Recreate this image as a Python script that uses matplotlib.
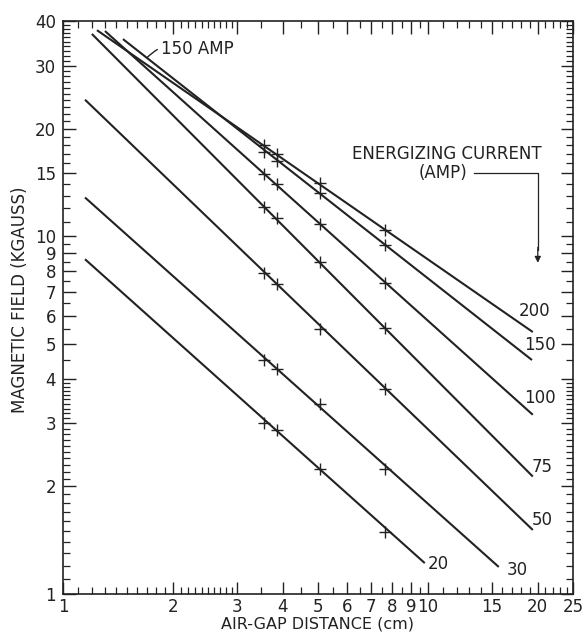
import matplotlib
matplotlib.use('Agg')
import matplotlib.pyplot as plt
import numpy as np
from matplotlib.ticker import FixedLocator, FixedFormatter, NullFormatter

plt.rcParams['font.family'] = 'DejaVu Sans'
plt.rcParams['font.size'] = 12

ink = '#222222'

# energizing current (A) of each curve
currents = [20, 30, 50, 75, 100, 150, 200]

# ends of each drawn line: air gap (cm), field (kG)
start_gap = [1.149, 1.149, 1.149, 1.20, 1.303, 1.46, 1.239]
start_field = [8.63, 12.84, 24.1, 36.8, 37.5, 35.6, 37.7]
end_gap = [9.81, 15.65, 19.4, 19.4, 19.4, 19.3, 19.4]
end_field = [1.22, 1.19, 1.51, 2.13, 3.17, 4.51, 5.40]

# measured points (+ marks)
meas_gap = [3.55, 3.85, 5.05, 7.65]
meas_field = [
    [3.00, 2.88, 2.24, 1.49],
    [4.51, 4.26, 3.40, 2.24],
    [7.89, 7.35, 5.51, 3.75],
    [12.04, 11.22, 8.47, 5.54],
    [14.98, 14.05, 10.8, 7.40],
    [17.26, 16.28, 13.18, 9.44],
    [18.05, 17.03, 14.14, 10.39],
]

# tick labels
x_major = [1, 2, 3, 4, 5, 6, 7, 8, 9, 10, 15, 20, 25]
y_major = [1, 2, 3, 4, 5, 6, 7, 8, 9, 10, 15, 20, 30, 40]

fig = plt.figure(figsize=(5.86, 6.34), dpi=100)
ax = fig.add_axes([0.1075, 0.0631, 0.8703, 0.9038])
ax.set_xscale('log')
ax.set_yscale('log')
ax.set_xlim(1, 25)
ax.set_ylim(1, 40)

for i, amp in enumerate(currents):
    ax.plot([start_gap[i], end_gap[i]], [start_field[i], end_field[i]],
            color=ink, lw=1.5, solid_capstyle='butt')
    ax.plot(meas_gap, meas_field[i], linestyle='none', marker='+',
            markersize=8, mew=1.0, color=ink)

# curve labels at the line ends
label_pos = {200: (17.8, 6.18), 150: (18.4, 4.97), 100: (18.4, 3.54),
             75: (19.2, 2.27), 50: (19.3, 1.61), 30: (16.4, 1.166),
             20: (10.0, 1.21)}
for amp in currents:
    lx, ly = label_pos[amp]
    ax.text(lx, ly, str(amp), ha='left', va='center', fontsize=12, color=ink)

# "150 AMP" callout
ax.annotate('150 AMP', xy=(1.70, 31.6), xytext=(1.86, 33.4),
            ha='left', va='center', fontsize=12, color=ink,
            arrowprops=dict(arrowstyle='-', color=ink, lw=1.0,
                            shrinkA=1, shrinkB=0,
                            connectionstyle='arc3,rad=0.35'))

# energizing current note with arrow
ax.text(0.753, 0.768, 'ENERGIZING CURRENT', transform=ax.transAxes,
        ha='center', va='center', fontsize=12, color=ink)
ax.text(0.745, 0.735, '(AMP)', transform=ax.transAxes,
        ha='center', va='center', fontsize=12, color=ink)
ax.plot([0.806, 0.931, 0.931], [0.735, 0.735, 0.60], transform=ax.transAxes,
        color=ink, lw=0.9)
ax.annotate('', xy=(0.931, 0.578), xytext=(0.931, 0.605),
            xycoords='axes fraction', textcoords='axes fraction',
            arrowprops=dict(arrowstyle='-|>', color=ink, lw=0.9,
                            mutation_scale=9, shrinkA=0, shrinkB=0))

# ticks
x_minor = (list(np.arange(1.1, 2.0, 0.1)) + list(np.arange(2.1, 3.0, 0.1))
           + [3.5, 4.5, 5.5, 6.5, 7.5, 8.5, 9.5]
           + [11, 12, 13, 14, 16, 17, 18, 19, 21, 22, 23, 24])
y_minor = (list(np.arange(1.1, 2.0, 0.1)) + list(np.arange(2.1, 3.0, 0.1))
           + list(np.arange(3.1, 4.0, 0.1))
           + [4.5, 5.5, 6.5, 7.5, 8.5, 9.5]
           + [11, 12, 13, 14, 16, 17, 18, 19]
           + list(range(21, 30)) + list(range(31, 40)))

ax.xaxis.set_major_locator(FixedLocator(x_major))
ax.xaxis.set_major_formatter(FixedFormatter([str(v) for v in x_major]))
ax.xaxis.set_minor_locator(FixedLocator(x_minor))
ax.xaxis.set_minor_formatter(NullFormatter())
ax.yaxis.set_major_locator(FixedLocator(y_major))
ax.yaxis.set_major_formatter(FixedFormatter([str(v) for v in y_major]))
ax.yaxis.set_minor_locator(FixedLocator(y_minor))
ax.yaxis.set_minor_formatter(NullFormatter())

ax.tick_params(which='both', direction='in', top=True, right=True,
               color=ink, labelcolor=ink, labelsize=12)
ax.tick_params(which='major', length=9, width=1.0, pad=5)
ax.tick_params(axis='x', which='major', pad=3)
ax.tick_params(which='minor', length=5, width=0.9)
for sp in ax.spines.values():
    sp.set_linewidth(1.2)
    sp.set_color(ink)

ax.set_xlabel('AIR-GAP DISTANCE (cm)', fontsize=11.5, color=ink, va='bottom')
ax.set_ylabel('MAGNETIC FIELD (KGAUSS)', fontsize=12, color=ink)
ax.xaxis.set_label_coords(0.5, -0.066)
ax.yaxis.set_label_coords(-0.066, 0.513)

fig.savefig('out.png', dpi=100)
